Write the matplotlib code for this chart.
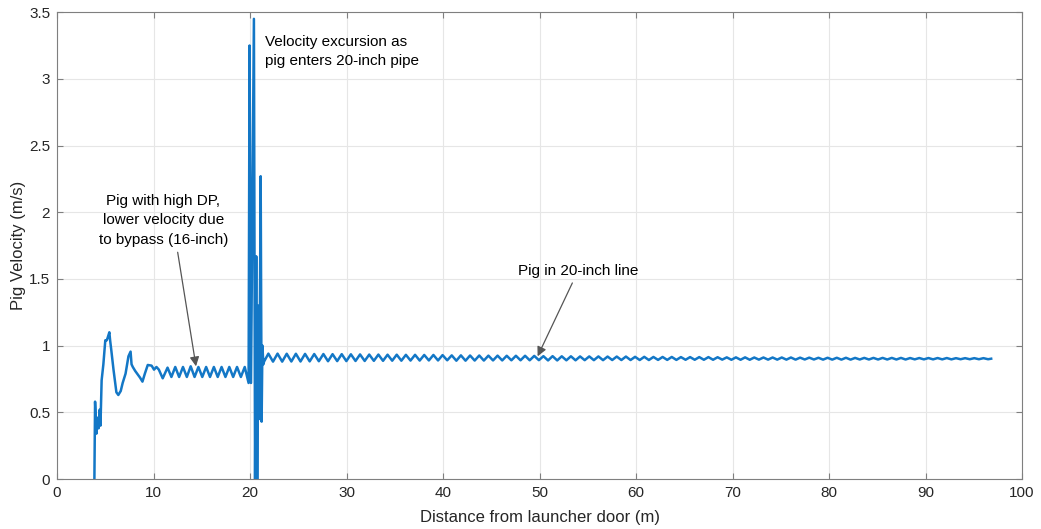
"""Pig velocity along the launcher / 16-inch / 20-inch pipe section."""

import matplotlib

matplotlib.use("Agg")
import matplotlib.pyplot as plt
import numpy as np

# launch transient (distance m, velocity m/s)
launch_x = [3.87, 3.94, 4.08, 4.22, 4.30, 4.42, 4.50, 4.62, 4.80, 5.00, 5.15, 5.25,
            5.42, 5.50, 5.60, 5.85, 6.15, 6.35, 6.60, 6.80, 7.10, 7.40, 7.62, 7.72,
            7.85, 8.10, 8.30, 8.60, 8.85, 9.10, 9.40, 9.80, 10.05, 10.30, 10.55, 10.95]
launch_v = [0.00, 0.58, 0.34, 0.46, 0.38, 0.52, 0.40, 0.74, 0.86, 1.04, 1.04, 1.06,
            1.10, 1.04, 0.98, 0.82, 0.65, 0.63, 0.66, 0.72, 0.79, 0.92, 0.955, 0.86,
            0.84, 0.81, 0.79, 0.76, 0.73, 0.79, 0.855, 0.85, 0.82, 0.84, 0.82, 0.755]

# 16-inch section with bypass: alternating crests and troughs
bypass_x = [11.45, 11.85, 12.25, 12.65, 13.05, 13.45, 13.85, 14.25, 14.65, 15.05,
            15.45, 15.85, 16.25, 16.65, 17.05, 17.45, 17.85, 18.25, 18.65, 19.05,
            19.45, 19.85]
bypass_v = [0.835, 0.765, 0.840, 0.765, 0.840, 0.765, 0.845, 0.765, 0.840, 0.765,
            0.840, 0.765, 0.840, 0.765, 0.840, 0.765, 0.840, 0.765, 0.840, 0.765,
            0.840, 0.720]

# excursion when the pig enters the 20-inch pipe
surge_x = [19.95, 20.10, 20.40, 20.52, 20.64, 20.74, 20.86, 20.96, 21.10, 21.20,
           21.28, 21.38, 21.45]
surge_v = [3.25, 0.72, 3.45, 0.00, 1.67, 0.00, 1.30, 0.45, 2.27, 0.43,
           1.00, 0.86, 0.88]

# 20-inch line: crest and trough positions / values
crest_x = [21.90, 22.85, 23.80, 24.75, 25.70, 26.65, 27.60, 28.55, 29.50, 30.45,
           31.40, 32.35, 33.30, 34.25, 35.20, 36.15, 37.10, 38.05, 39.00, 39.95,
           40.90, 41.85, 42.80, 43.75, 44.70, 45.65, 46.60, 47.55, 48.50, 49.45,
           50.40, 51.35, 52.30, 53.25, 54.20, 55.15, 56.10, 57.05, 58.00, 58.95,
           59.90, 60.85, 61.80, 62.75, 63.70, 64.65, 65.60, 66.55, 67.50, 68.45,
           69.40, 70.35, 71.30, 72.25, 73.20, 74.15, 75.10, 76.05, 77.00, 77.95,
           78.90, 79.85, 80.80, 81.75, 82.70, 83.65, 84.60, 85.55, 86.50, 87.45,
           88.40, 89.35, 90.30, 91.25, 92.20, 93.15, 94.10, 95.05, 96.00]
crest_v = [0.940, 0.940, 0.939, 0.939, 0.938, 0.937, 0.937, 0.936, 0.936, 0.935,
           0.934, 0.933, 0.933, 0.932, 0.932, 0.931, 0.931, 0.930, 0.930, 0.929,
           0.927, 0.927, 0.926, 0.926, 0.925, 0.925, 0.924, 0.924, 0.924, 0.923,
           0.921, 0.921, 0.920, 0.920, 0.919, 0.919, 0.919, 0.918, 0.918, 0.918,
           0.916, 0.916, 0.915, 0.915, 0.915, 0.914, 0.914, 0.914, 0.914, 0.913,
           0.912, 0.912, 0.912, 0.911, 0.911, 0.911, 0.911, 0.911, 0.910, 0.910,
           0.909, 0.909, 0.909, 0.909, 0.908, 0.908, 0.908, 0.908, 0.908, 0.908,
           0.907, 0.907, 0.907, 0.907, 0.907, 0.906, 0.906, 0.906, 0.906]
trough_x = [22.38, 23.33, 24.28, 25.23, 26.18, 27.13, 28.08, 29.03, 29.98, 30.93,
            31.88, 32.83, 33.78, 34.73, 35.68, 36.63, 37.58, 38.53, 39.48, 40.43,
            41.38, 42.33, 43.28, 44.23, 45.18, 46.13, 47.08, 48.03, 48.98, 49.93,
            50.88, 51.83, 52.78, 53.73, 54.68, 55.63, 56.58, 57.53, 58.48, 59.43,
            60.38, 61.33, 62.28, 63.23, 64.18, 65.13, 66.08, 67.03, 67.98, 68.93,
            69.88, 70.83, 71.78, 72.73, 73.68, 74.63, 75.58, 76.53, 77.48, 78.43,
            79.38, 80.33, 81.28, 82.23, 83.18, 84.13, 85.08, 86.03, 86.98, 87.93,
            88.88, 89.83, 90.78, 91.73, 92.68, 93.63, 94.58, 95.53, 96.48]
trough_v = [0.880, 0.880, 0.881, 0.881, 0.882, 0.883, 0.883, 0.884, 0.884, 0.885,
            0.885, 0.886, 0.886, 0.887, 0.887, 0.888, 0.888, 0.889, 0.889, 0.890,
            0.887, 0.887, 0.888, 0.888, 0.889, 0.889, 0.890, 0.890, 0.890, 0.891,
            0.889, 0.889, 0.890, 0.890, 0.891, 0.891, 0.891, 0.892, 0.892, 0.892,
            0.892, 0.892, 0.893, 0.893, 0.893, 0.894, 0.894, 0.894, 0.894, 0.895,
            0.894, 0.894, 0.894, 0.895, 0.895, 0.895, 0.895, 0.895, 0.896, 0.896,
            0.895, 0.895, 0.895, 0.895, 0.896, 0.896, 0.896, 0.896, 0.896, 0.896,
            0.897, 0.897, 0.897, 0.897, 0.897, 0.898, 0.898, 0.898, 0.898]
end_x, end_v = 96.80, 0.902

# interleave crests and troughs of the 20-inch line
line_x = np.column_stack([crest_x, trough_x]).ravel()
line_v = np.column_stack([crest_v, trough_v]).ravel()

distance = np.concatenate([launch_x, bypass_x, surge_x, line_x, [end_x]])
velocity = np.concatenate([launch_v, bypass_v, surge_v, line_v, [end_v]])

plt.rcParams["font.family"] = ["Liberation Sans", "DejaVu Sans"]
text_color = "#262626"
axis_color = "#7f7f7f"

fig = plt.figure(figsize=(10.41, 5.29), dpi=100)
ax = fig.add_axes([0.0548, 0.0945, 0.927, 0.8825])

ax.plot(distance, velocity, color="#1377c6", lw=1.8, solid_joinstyle="round")

ax.set_xlim(0, 100)
ax.set_ylim(0, 3.5)
ax.set_xticks(np.arange(0, 101, 10))
ax.set_yticks(np.arange(0, 3.51, 0.5))
ax.set_yticklabels(["0", "0.5", "1", "1.5", "2", "2.5", "3", "3.5"])
ax.grid(True, color="#e6e6e6", lw=0.8)
ax.set_axisbelow(True)
ax.tick_params(direction="in", length=4, color=axis_color, labelcolor=text_color,
               labelsize=11, pad=5, top=True, right=True)
for spine in ax.spines.values():
    spine.set_color(axis_color)
    spine.set_linewidth(0.8)

ax.set_xlabel("Distance from launcher door (m)", fontsize=12, color=text_color, labelpad=7)
ax.set_ylabel("Pig Velocity (m/s)", fontsize=12, color=text_color, labelpad=2)

arrow = dict(arrowstyle="-|>", color="#555555", lw=0.9, mutation_scale=14,
             shrinkA=0, shrinkB=0)
ax.text(11.0, 1.74, "Pig with high DP,\nlower velocity due\nto bypass (16-inch)",
        ha="center", va="bottom", fontsize=11, color="black", linespacing=1.5)
ax.annotate("", xy=(14.4, 0.845), xytext=(12.5, 1.70), arrowprops=arrow)
ax.text(54.0, 1.51, "Pig in 20-inch line", ha="center", va="bottom",
        fontsize=11, color="black")
ax.annotate("", xy=(49.8, 0.92), xytext=(53.4, 1.47), arrowprops=arrow)
ax.text(21.6, 3.33, "Velocity excursion as\npig enters 20-inch pipe",
        ha="left", va="top", fontsize=11, color="black", linespacing=1.5)

fig.savefig("out.png", dpi=100)
